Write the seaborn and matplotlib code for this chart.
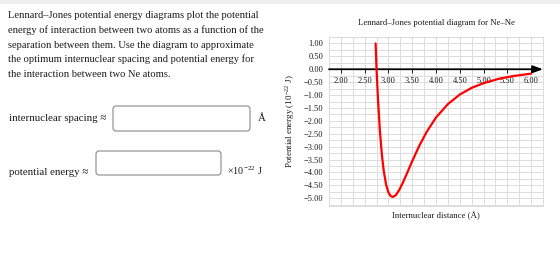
import matplotlib
matplotlib.use("Agg")
import matplotlib.pyplot as plt
from matplotlib.patches import FancyBboxPatch, Rectangle
from matplotlib.transforms import IdentityTransform
import seaborn as sns
import pandas as pd
import numpy as np

# ---- data ----
distance = [2.73, 2.75, 2.78, 2.82, 2.86, 2.90, 2.95, 3.00, 3.05, 3.09, 3.15,
            3.22, 3.30, 3.40, 3.50, 3.65, 3.80, 4.00, 4.25, 4.50, 4.75, 5.00,
            5.30, 5.60, 6.00]
energy = [1.00, 0.00, -1.17, -2.38, -3.28, -3.93, -4.47, -4.78, -4.92, -4.95,
          -4.89, -4.70, -4.41, -3.99, -3.56, -2.96, -2.44, -1.87, -1.35, -0.98,
          -0.72, -0.54, -0.38, -0.27, -0.17]
x_ticks = [2.0, 2.5, 3.0, 3.5, 4.0, 4.5, 5.0, 5.5, 6.0]
x_tick_labels = ["2.00", "2.50", "3.00", "3.50", "4.00", "4.50", "5.00", "5.50", "6.00"]
y_ticks = [1.0, 0.5, 0.0, -0.5, -1.0, -1.5, -2.0, -2.5, -3.0, -3.5, -4.0, -4.5, -5.0]
y_tick_labels = ["1.00", "0.50", "0.00", "\u22120.50", "\u22121.00", "\u22121.50",
                 "\u22122.00", "\u22122.50", "\u22123.00", "\u22123.50", "\u22124.00",
                 "\u22124.50", "\u22125.00"]

sns.set_style("white")
plt.rcParams["font.family"] = ["Liberation Serif", "DejaVu Serif"]
plt.rcParams["mathtext.fontset"] = "stix"

W, H = 560, 276
fig = plt.figure(figsize=(W / 100, H / 100), dpi=100)
fig.patch.set_facecolor("white")

def fx(x):
    return x / W

def fy(y):
    return 1 - y / H

TXT = "#1a1a1a"

# top grey strip
fig.patches.append(Rectangle((0, H - 4), W, 4, transform=IdentityTransform(),
                             facecolor="#efefef", edgecolor="none"))

# ---- left-hand text ----
para = ["Lennard\u2013Jones potential energy diagrams plot the potential",
        "energy of interaction between two atoms as a function of the",
        "separation between them. Use the diagram to approximate",
        "the optimum internuclear spacing and potential energy for",
        "the interaction between two Ne atoms."]
for i, line in enumerate(para):
    fig.text(fx(8), fy(18 + i * 14.8), line, fontsize=7.55, color=TXT,
             va="baseline", ha="left")

fig.text(fx(9), fy(121), "internuclear spacing \u2248", fontsize=7.8,
         color=TXT, va="baseline")
fig.text(fx(258), fy(121), "\u00c5", fontsize=7.8, color=TXT, va="baseline")
fig.text(fx(9), fy(175), "potential energy \u2248", fontsize=7.8,
         color=TXT, va="baseline")
fig.text(fx(227), fy(175), "\u00d710$^{\\mathregular{-22}}$ J", fontsize=7.3,
         color=TXT, va="baseline")

for (x0, y0, x1, y1) in [(113, 106, 250, 131), (96, 151, 221, 175)]:
    fig.patches.append(FancyBboxPatch((x0, H - y1), x1 - x0, y1 - y0,
                                      boxstyle="round,pad=0,rounding_size=3",
                                      transform=IdentityTransform(),
                                      facecolor="white", edgecolor="#8a8a8a",
                                      linewidth=0.8))

# ---- chart ----
ax = fig.add_axes([fx(329), fy(206), (543 - 329) / W, (206 - 37) / H])
df = pd.DataFrame({"distance": distance, "energy": energy})
sns.lineplot(data=df, x="distance", y="energy", ax=ax, color="#ff0000",
             linewidth=1.6, sort=False, zorder=5)

ax.set_xlim(1.75, 6.25)
ax.set_ylim(-5.3, 1.25)
ax.set_yticks(y_ticks)
ax.set_yticklabels(y_tick_labels)
ax.set_yticks(np.arange(-5.25, 1.26, 0.25), minor=True)
ax.set_xticks(x_ticks)
ax.set_xticks(np.arange(1.75, 6.26, 0.25), minor=True)
ax.tick_params(axis="x", which="both", length=0, labelbottom=False)
ax.tick_params(axis="y", which="major", length=3, width=0.6, color="#444444",
               labelsize=6.0, pad=1, labelcolor=TXT)
ax.tick_params(axis="y", which="minor", length=0)
ax.grid(True, which="both", color="#dcdcdc", linewidth=0.7)
ax.set_axisbelow(True)
for s in ax.spines.values():
    s.set_color("#dcdcdc")
    s.set_linewidth(0.7)

# x axis arrow at zero
ax.annotate("", xy=(6.25, 0), xytext=(1.75, 0),
            arrowprops=dict(arrowstyle="-|>,head_length=0.6,head_width=0.22",
                            color="black", lw=1.3, shrinkA=0, shrinkB=0),
            zorder=4)
ax.vlines(x_ticks, -0.14, 0, color="black", linewidth=0.6, zorder=4)
for xt, lab in zip(x_ticks, x_tick_labels):
    ax.text(xt, -0.47, lab, ha="center", va="center", fontsize=6.0,
            color=TXT, zorder=3)

ax.set_xlabel("")
ax.set_ylabel("")
fig.text(fx(436), fy(23), "Lennard\u2013Jones potential diagram for Ne\u2013Ne",
         fontsize=6.3, ha="center", va="center", color=TXT)
fig.text(fx(436), fy(216), "Internuclear distance (\u00c5)", fontsize=6.3,
         ha="center", va="center", color=TXT)
fig.text(fx(290), fy(121), "Potential energy (10$^{\\mathregular{-22}}$ J)",
         fontsize=6.5, ha="center", va="center", rotation=90, color=TXT)

fig.savefig("out.png", dpi=100)
